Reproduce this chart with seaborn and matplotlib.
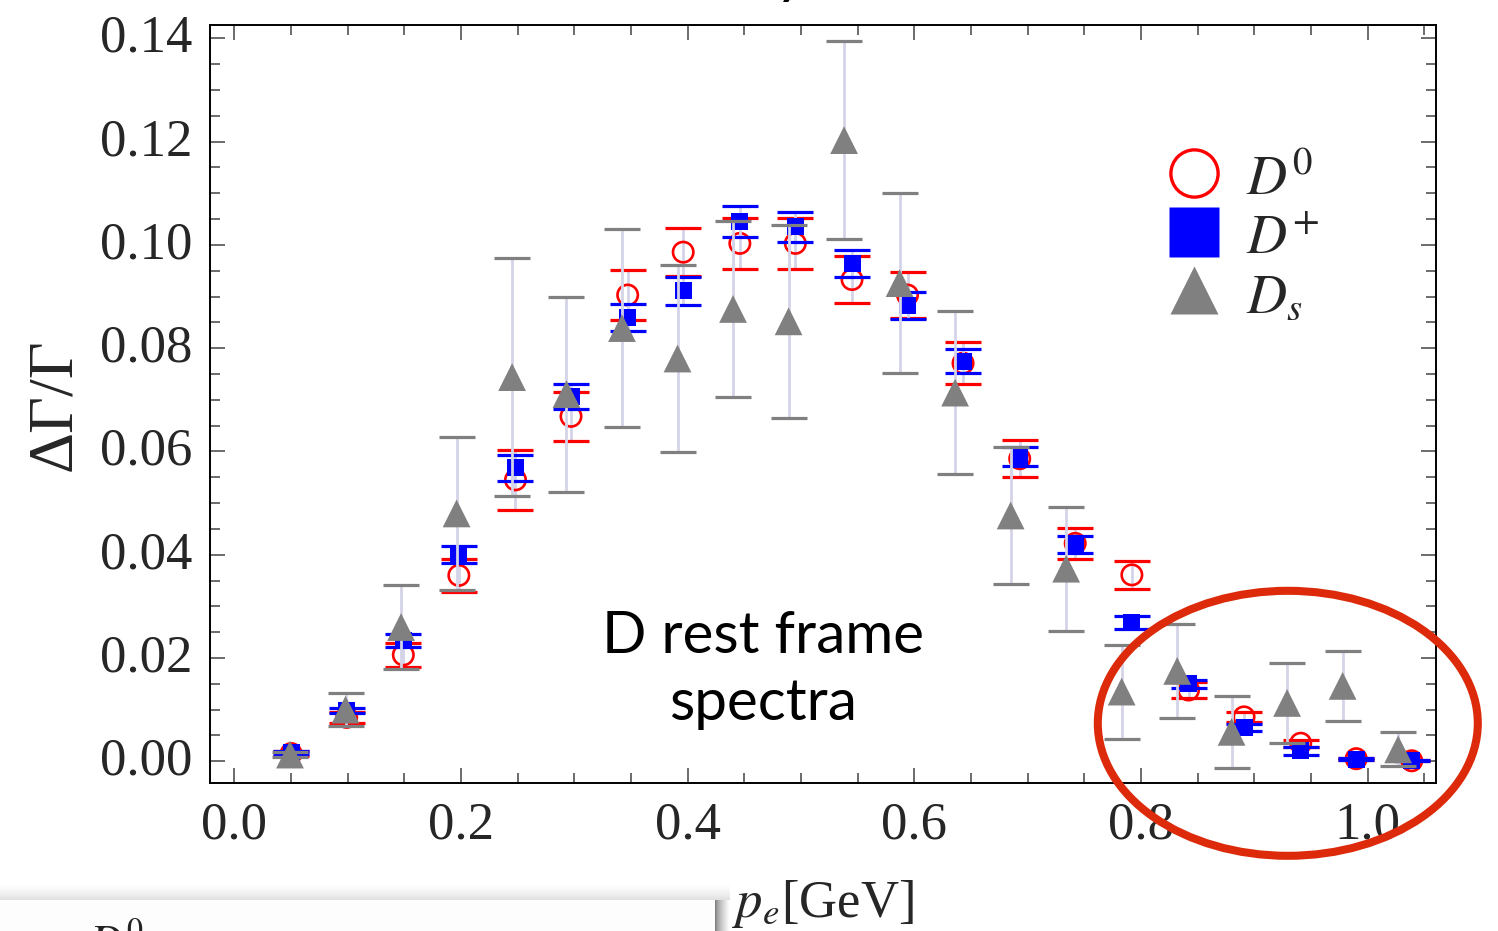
import numpy as np
import matplotlib
matplotlib.use("Agg")
import matplotlib.pyplot as plt
import matplotlib.transforms as mtransforms
import seaborn as sns
from matplotlib.lines import Line2D
from matplotlib.patches import Ellipse
from matplotlib.ticker import MultipleLocator, FormatStrFormatter

# electron momentum bins [GeV] (D0 / D+ share bins, Ds bins slightly narrower)
p_d = [0.050, 0.099, 0.149, 0.198, 0.248, 0.297, 0.347, 0.396, 0.446, 0.495, 0.545,
       0.594, 0.643, 0.693, 0.742, 0.792, 0.842, 0.891, 0.941, 0.990, 1.039]
p_ds = [0.049, 0.098, 0.147, 0.196, 0.245, 0.293, 0.342, 0.391, 0.440, 0.489, 0.538,
        0.587, 0.636, 0.685, 0.734, 0.783, 0.832, 0.880, 0.929, 0.978, 1.027]

# partial rates dGamma/Gamma and their uncertainties
d0_rate = [0.0015, 0.0085, 0.0206, 0.0360, 0.0545, 0.0668, 0.0903, 0.0986, 0.1003, 0.1003, 0.0933,
           0.0903, 0.0771, 0.0586, 0.0422, 0.0361, 0.0138, 0.0086, 0.0035, 0.0005, 0.0001]
d0_err = [0.0004, 0.0011, 0.0023, 0.0032, 0.0058, 0.0047, 0.0048, 0.0046, 0.0049, 0.0049, 0.0045,
          0.0045, 0.0041, 0.0036, 0.0030, 0.0027, 0.0015, 0.0010, 0.0007, 0.0002, 0.0001]

dp_rate = [0.0017, 0.0099, 0.0234, 0.0400, 0.0568, 0.0706, 0.0860, 0.0911, 0.1045, 0.1035, 0.0964,
           0.0882, 0.0775, 0.0590, 0.0420, 0.0269, 0.0150, 0.0066, 0.0020, 0.0004, 0.0001]
dp_err = [0.0003, 0.0005, 0.0012, 0.0016, 0.0025, 0.0024, 0.0026, 0.0027, 0.0030, 0.0029, 0.0027,
          0.0026, 0.0024, 0.0019, 0.0016, 0.0013, 0.0008, 0.0007, 0.0007, 0.0002, 0.0001]

ds_rate = [0.0013, 0.0100, 0.0260, 0.0480, 0.0744, 0.0711, 0.0839, 0.0780, 0.0876, 0.0852, 0.1203,
           0.0926, 0.0714, 0.0476, 0.0373, 0.0135, 0.0175, 0.0057, 0.0113, 0.0146, 0.0023]
ds_err = [0.0005, 0.0032, 0.0082, 0.0148, 0.0230, 0.0189, 0.0191, 0.0182, 0.0170, 0.0187, 0.0192,
          0.0174, 0.0158, 0.0132, 0.0120, 0.0091, 0.0091, 0.0070, 0.0077, 0.0068, 0.0033]

labels = ["$D^{0}$", "$D^{+}$", "$D_{s}$"]
x_ticks_fmt = "%.1f"
y_ticks_fmt = "%.2f"

sns.set_style("ticks")
plt.rcParams["font.family"] = ["Liberation Serif", "DejaVu Serif"]
plt.rcParams["mathtext.fontset"] = "stix"

RED, BLUE, GRAY = "#ff0000", "#0000ff", "#808080"
STEM = "#d4d4e8"

fig = plt.figure(figsize=(14.98, 9.31), dpi=100)
ax = fig.add_axes([0.1402, 0.159, 0.8184, 0.8142])

series = [
    (p_d, d0_rate, d0_err, RED, 2,
     dict(marker="o", s=215, facecolors="none", edgecolors=RED, linewidths=1.9)),
    (p_d, dp_rate, dp_err, BLUE, 3,
     dict(marker="s", s=150, color=BLUE, edgecolors="none", linewidths=0)),
    (p_ds, ds_rate, ds_err, GRAY, 4,
     dict(marker="^", s=400, color=GRAY, edgecolors="none", linewidths=0)),
]

for x, y, e, c, z, mk in series:
    eb = ax.errorbar(x, y, yerr=e, fmt="none", ecolor=STEM, elinewidth=2.0,
                     capsize=13.3, capthick=2.3, zorder=z)
    for cap in eb[1]:
        cap.set_color(c)
        cap.set_markeredgecolor(c)
    sns.scatterplot(x=x, y=y, ax=ax, legend=False, zorder=z + 0.5, **mk)

ax.set_xlim(-0.0216, 1.0604)
ax.set_ylim(-0.0042, 0.1426)
ax.xaxis.set_major_locator(MultipleLocator(0.2))
ax.xaxis.set_minor_locator(MultipleLocator(0.05))
ax.yaxis.set_major_locator(MultipleLocator(0.02))
ax.yaxis.set_minor_locator(MultipleLocator(0.005))
ax.xaxis.set_major_formatter(FormatStrFormatter(x_ticks_fmt))
ax.yaxis.set_major_formatter(FormatStrFormatter(y_ticks_fmt))
ax.tick_params(which="both", direction="in", top=True, right=True,
               color="#444444", width=1.1)
ax.tick_params(which="major", length=10.5, labelsize=38, pad=13)
ax.tick_params(which="minor", length=7)
for sp in ax.spines.values():
    sp.set_linewidth(1.4)
    sp.set_color("black")

# y tick labels sit slightly above their ticks
lift = mtransforms.ScaledTranslation(0, 5 / 100, fig.dpi_scale_trans)
for lab in ax.get_yticklabels():
    lab.set_transform(lab.get_transform() + lift)

ax.set_ylabel("ΔΓ/Γ", fontsize=46)
ax.yaxis.set_label_coords(-0.103, 0.499)
ax.set_xlabel("$p_e$[GeV]", fontsize=38)
ax.xaxis.set_label_coords(0.5, -0.125)

handles = [
    Line2D([], [], ls="none", marker="o", ms=34, mfc="none", mec=RED, mew=2.4),
    Line2D([], [], ls="none", marker="s", ms=36, mfc=BLUE, mec="none"),
    Line2D([], [], ls="none", marker="^", ms=35, mfc=GRAY, mec="none"),
]
ax.legend(handles, labels, loc="upper left",
          bbox_to_anchor=(1166.7 / 1498, 1 - 151 / 931), bbox_transform=fig.transFigure,
          frameon=False, fontsize=40, handlelength=1.0, handleheight=1.0,
          handletextpad=0.42, labelspacing=0.05, borderpad=0, borderaxespad=0)

ax.text(0.4665, 0.021, "D rest frame", ha="center", va="baseline",
        fontsize=42, family="Lato", color="black")
ax.text(0.4665, 0.008, "spectra", ha="center", va="baseline",
        fontsize=42, family="Lato", color="black")

# highlight of the high-momentum end
ring = Ellipse((1287.8 / 1498, 1 - 723.3 / 931), width=380 / 1498, height=265 / 931,
               transform=fig.transFigure, fill=False, edgecolor="#dc2a0a",
               linewidth=5.8, zorder=10)
fig.add_artist(ring)

# title fragment at the top edge
fig.text(790 / 1498, 1 + 5 / 931, "y", ha="center", va="baseline", fontsize=32,
         fontweight="bold", family="Lato", color="black")

# lower-left overlapping panel with drop shadow
rows, cols = 49, 730
img = np.ones((rows, cols))
band = 18
for r in range(band):
    img[r, :] = 1 - 0.12 * (r / (band - 1)) ** 1.5
img[band:, :715] = 0.99
for c in range(715, cols):
    img[band:, c] = 0.5 + 0.5 * ((c - 715) / (cols - 716)) ** 0.7
panel = fig.add_axes([0, 0, cols / 1498, rows / 931], zorder=20)
panel.imshow(img, cmap="gray", vmin=0, vmax=1, aspect="auto", interpolation="bilinear")
panel.axis("off")
fig.text(88 / 1498, (931 - 957) / 931, "$D^0$", fontsize=33, color="#222222", zorder=25)

fig.savefig("out.png", dpi=100)
